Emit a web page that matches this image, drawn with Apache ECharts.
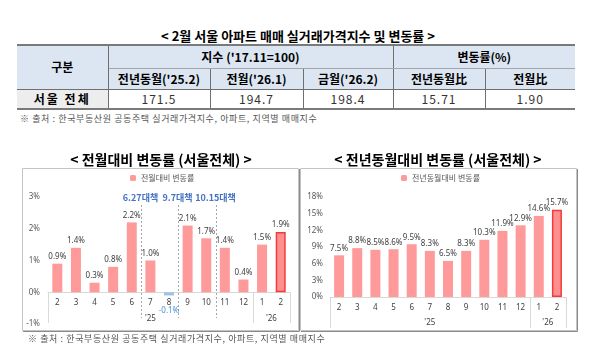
<!DOCTYPE html>
<html><head><meta charset="utf-8">
<script src="https://cdn.jsdelivr.net/npm/echarts@6/dist/echarts.min.js"></script>
<style>
html,body{margin:0;padding:0;background:#fff;}
#wrap{position:relative;width:600px;height:359px;overflow:hidden;font-family:"Noto Sans CJK KR","Noto Sans",sans-serif;}
#chart{position:absolute;left:0;top:0;width:600px;height:359px;}
.ttl{position:absolute;left:0;width:596px;top:27px;text-align:center;font-weight:bold;font-size:13px;color:#000;line-height:18px;}
.note{position:absolute;left:20px;font-size:9px;color:#555;letter-spacing:0.6px;line-height:12px;white-space:nowrap;font-family:"Noto Sans CJK KR",serif;}
table{position:absolute;left:17px;top:44px;border-collapse:collapse;table-layout:fixed;}
th,td{padding:0;text-align:center;font-size:12px;line-height:14px;white-space:nowrap;border:1px solid #6f6f6f;}
thead th{background:#dce6f2;font-weight:bold;color:#000;}
tbody th{background:#ededed;font-weight:bold;color:#000;letter-spacing:2px;}
tbody td{color:#333;letter-spacing:1px;}
tr.r1{height:23px;} tr.r2{height:21px;} tr.r3{height:20px;}
tr.r1 th{border-top:2px solid #7a7a7a;}
tr.r3 th, tr.r3 td{border-bottom:2px solid #7a7a7a;}
th.first,td.first{border-left:none;} th.last,td.last{border-right:none;}
tr.r1 th.sub{border-bottom:1px solid #a6a6a6;}
</style></head>
<body>
<div id="wrap">
  <div class="ttl" id="tableTitle"></div>
  <table id="tbl"></table>
  <div class="note" style="top:113px" id="note1"></div>
  <div id="chart"></div>
  <div class="note" style="top:333px;left:28px" id="note2"></div>
</div>
<script>
// ---- table data ----
const tableTitle = "< 2월 서울 아파트 매매 실거래가격지수 및 변동률 >";
const rowHeader = "구분";
const groupHeaders = ["지수 ('17.11=100)", "변동률(%)"];
const groupSpans = [3, 2];
const subHeaders = ["전년동월('25.2)", "전월('26.1)", "금월('26.2)", "전년동월比", "전월比"];
const rowLabel = "서울 전체";
const rowValues = ["171.5", "194.7", "198.4", "15.71", "1.90"];
const sourceNote = "※ 출처 : 한국부동산원 공동주택 실거래가격지수, 아파트, 지역별 매매지수";

// ---- chart data ----
const months = ['2','3','4','5','6','7','8','9','10','11','12','1','2'];
const yearGroups = [{label:"'25", from:0, to:10}, {label:"'26", from:11, to:12}];
const momName = '전월대비 변동률';
const momValues = [0.9, 1.4, 0.3, 0.8, 2.2, 1.0, -0.1, 2.1, 1.7, 1.4, 0.4, 1.5, 1.9];
const yoyName = '전년동월대비 변동률';
const yoyValues = [7.5, 8.8, 8.5, 8.6, 9.5, 8.3, 6.5, 8.3, 10.3, 11.9, 12.9, 14.6, 15.7];
const policies = [{label:'6.27대책', after:4}, {label:'9.7대책', after:6}, {label:'10.15대책', after:8}];
const leftTitle = '< 전월대비 변동률 (서울전체) >';
const rightTitle = '< 전년동월대비 변동률 (서울전체) >';
const momAxis = {min:-1, max:3, interval:1};
const yoyAxis = {min:0, max:18, interval:3};

// ---- build table ----
document.getElementById('tableTitle').textContent = tableTitle;
document.getElementById('note1').textContent = sourceNote;
document.getElementById('note2').textContent = sourceNote;
const colW = [91, 102, 93, 90, 92, 90];
let html = '<colgroup>' + colW.map(w => '<col style="width:' + w + 'px">').join('') + '</colgroup>';
html += '<thead><tr class="r1"><th class="first" rowspan="2">' + rowHeader + '</th>';
groupHeaders.forEach((g, i) => {
  html += '<th class="sub' + (i === groupHeaders.length - 1 ? ' last' : '') + '" colspan="' + groupSpans[i] + '">' + g + '</th>';
});
html += '</tr><tr class="r2">';
subHeaders.forEach((s, i) => { html += '<th' + (i === subHeaders.length - 1 ? ' class="last"' : '') + '>' + s + '</th>'; });
html += '</tr></thead><tbody><tr class="r3"><th class="first">' + rowLabel + '</th>';
rowValues.forEach((v, i) => { html += '<td' + (i === rowValues.length - 1 ? ' class="last"' : '') + '>' + v + '</td>'; });
html += '</tr></tbody>';
document.getElementById('tbl').innerHTML = html;

// ---- chart ----
const PINK = '#ff9a9a';
const FONT = '"Noto Sans CJK KR","Noto Sans",sans-serif';
const chart = echarts.init(document.getElementById('chart'), null, {renderer:'canvas'});
const pct = p => (p.value).toFixed(1) + '%';

function barData(vals) {
  return vals.map((v, i) => {
    const d = {value: v};
    if (v < 0) {
      d.itemStyle = {color: '#9dc3e6'};
      d.label = {position: 'bottom', distance: 11, color: '#4a8fd6'};
    }
    if (i === vals.length - 1) {
      d.itemStyle = {color: '#ff8f8f', borderColor: '#f23c3c', borderWidth: 1.5};
    }
    return d;
  });
}
const G0 = {left: 48, right: 310, top: 197, bottom: 35};
const G1 = {left: 330, right: 34, top: 197, bottom: 62};
const g0H = 359 - G0.top - G0.bottom;
const zeroOffset0 = -g0H * (0 - momAxis.min) / (momAxis.max - momAxis.min);

const axLabelY = {formatter: '{value}%', fontSize: 8, color: '#595959', margin: 8, fontFamily: 'Noto Sans'};
const option = {
  animation: false,
  textStyle: {fontFamily: FONT},
  legend: [
    {data: [momName], left: 130, top: 174, itemWidth: 6, itemHeight: 6, itemGap: 4, textStyle: {fontSize: 8, color: '#595959'}, padding: 0},
    {data: [yoyName], left: 401, top: 174, itemWidth: 6, itemHeight: 6, itemGap: 4, textStyle: {fontSize: 8, color: '#595959'}, padding: 0}
  ],
  grid: [G0, G1],
  xAxis: [
    {gridIndex: 0, type: 'category', data: months, position: 'bottom', offset: zeroOffset0, axisLine: {onZero: false, lineStyle: {color: '#d9d9d9'}}, axisTick: {show: false}, axisLabel: {fontSize: 8, color: '#404040', margin: 6, interval: 0, fontFamily: 'Noto Sans'}},
    {gridIndex: 1, type: 'category', data: months, axisLine: {lineStyle: {color: '#d9d9d9'}}, axisTick: {show: false}, axisLabel: {fontSize: 8, color: '#404040', margin: 7, interval: 0, fontFamily: 'Noto Sans'}}
  ],
  yAxis: [
    Object.assign({gridIndex: 0, type: 'value', splitLine: {show: false}, axisLine: {show: false}, axisTick: {show: false}, axisLabel: axLabelY}, momAxis),
    Object.assign({gridIndex: 1, type: 'value', splitLine: {show: false}, axisLine: {show: false}, axisTick: {show: false}, axisLabel: Object.assign({}, axLabelY, {margin: 7})}, yoyAxis)
  ],
  series: [
    {type: 'bar', name: momName, xAxisIndex: 0, yAxisIndex: 0, barWidth: 10, itemStyle: {color: PINK}, data: barData(momValues),
     label: {show: true, position: 'top', distance: 3, fontSize: 8, color: '#404040', formatter: pct, fontFamily: 'Noto Sans'}},
    {type: 'bar', name: yoyName, xAxisIndex: 1, yAxisIndex: 1, barWidth: 10, itemStyle: {color: PINK}, data: barData(yoyValues),
     label: {show: true, position: 'top', distance: 3, fontSize: 8, color: '#404040', formatter: pct, fontFamily: 'Noto Sans'}}
  ]
};
chart.setOption(option);

function decorate() {
  const els = [];
  // chart boxes
  els.push({type: 'rect', silent: true, z: -10, shape: {x: 22.5, y: 168.5, width: 276, height: 162}, style: {fill: 'none', stroke: '#c4c4c4', lineWidth: 1}});
  els.push({type: 'polyline', silent: true, z: -10, shape: {points: [[23, 331.5], [299.5, 331.5], [299.5, 169]]}, style: {stroke: '#8a8a8a', lineWidth: 1, fill: 'none'}});
  els.push({type: 'rect', silent: true, z: -10, shape: {x: 300.5, y: 168.5, width: 276, height: 162}, style: {fill: 'none', stroke: '#c4c4c4', lineWidth: 1}});
  els.push({type: 'polyline', silent: true, z: -10, shape: {points: [[301, 331.5], [577.5, 331.5], [577.5, 169]]}, style: {stroke: '#8a8a8a', lineWidth: 1, fill: 'none'}});
  // titles
  els.push({type: 'text', silent: true, x: 161, y: 160, style: {text: leftTitle, font: 'bold 14px ' + FONT, fill: '#000', align: 'center', verticalAlign: 'middle'}});
  els.push({type: 'text', silent: true, x: 438, y: 160, style: {text: rightTitle, font: 'bold 14px ' + FONT, fill: '#000', align: 'center', verticalAlign: 'middle'}});

  [[0, 0, 323, 319], [1, 1, 328, 323]].forEach(([xi, yi, lineBottom, yearY]) => {
    const px = i => chart.convertToPixel({xAxisIndex: xi}, i);
    const band = px(1) - px(0);
    const zeroY = chart.convertToPixel({yAxisIndex: yi}, 0);
    const bounds = [px(0) - band / 2].concat(yearGroups.map(g => px(g.to) + band / 2));
    bounds.forEach(bx => {
      const x = Math.round(bx) + 0.5;
      els.push({type: 'line', silent: true, shape: {x1: x, y1: zeroY, x2: x, y2: lineBottom}, style: {stroke: '#d9d9d9', lineWidth: 1}});
    });
    yearGroups.forEach(g => {
      els.push({type: 'text', silent: true, x: (px(g.from) + px(g.to)) / 2, y: yearY, style: {text: g.label, font: '8px "Noto Sans"', fill: '#404040', align: 'center', verticalAlign: 'middle'}});
    });
    if (xi === 0) {
      policies.forEach(p => {
        const x = Math.round(px(p.after) + band / 2) + 0.5;
        els.push({type: 'line', silent: true, shape: {x1: x, y1: 205, x2: x, y2: 318}, style: {stroke: '#a6a6a6', lineWidth: 1, lineDash: [2, 2]}});
        els.push({type: 'text', silent: true, x: x - 1, y: 198, style: {text: p.label, font: 'bold 9px ' + FONT, fill: '#4472c4', align: 'center', verticalAlign: 'middle'}});
      });
    }
  });
  chart.setOption({graphic: {elements: els}});
}
decorate();
</script>
</body></html>
